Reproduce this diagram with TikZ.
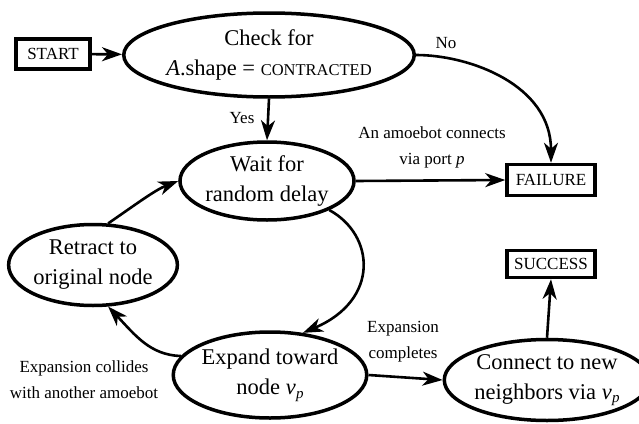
\documentclass[tikz,border=0pt]{standalone}
\usepackage{fontspec}
\setmainfont{Liberation Serif}
\usetikzlibrary{arrows.meta,shapes.geometric}
\newcommand{\vsub}{\textit{v}\kern0.3pt\raisebox{-0.35ex}{\fontsize{15}{15}\selectfont\textit{p}}}
\begin{document}
\begin{tikzpicture}[x=1pt,y=1pt,
  state/.style={ellipse,draw,line width=3.5pt,inner sep=0pt,align=center,
    font=\fontsize{22.5}{30}\selectfont},
  term/.style={rectangle,draw,line width=3.5pt,inner sep=0pt,align=center,
    font=\fontsize{17}{20}\selectfont},
  edge/.style={line width=2.6pt,-{Stealth[length=20pt,width=14pt,inset=6pt]}},
  lbl/.style={align=center,font=\fontsize{17}{26}\selectfont}]
\useasboundingbox (0,0) rectangle (639,-423);
\node[term,minimum width=74,minimum height=30] (start) at (53,-54) {START};
\node[state,minimum width=248,minimum height=84] (chk) at (269,-55) {Check for\\\textit{A}.shape = {\fontsize{16.5}{30}\selectfont CONTRACTED}};
\node[state,minimum width=157,minimum height=78] (wait) at (267,-181) {Wait for\\random delay};
\node[term,minimum width=88,minimum height=31] (fail) at (551,-180) {FAILURE};
\node[term,minimum width=88,minimum height=27] (succ) at (551,-264) {SUCCESS};
\node[state,minimum width=156,minimum height=81] (retr) at (93,-265) {Retract to\\original node};
\node[state,minimum width=190,minimum height=86] (exp) at (270,-375) {Expand toward\\node \vsub};
\node[state,minimum width=180,minimum height=81] (conn) at (547,-380) {Connect to new\\neighbors via \vsub};

\draw[edge] (start) -- (chk);
\draw[edge] (chk.east) .. controls (470,-55) and (551,-85) .. (fail.north);
\node[lbl] (nolbl) at (446,-43) {No};
\draw[edge] (chk.south) -- (wait.north);
\node[lbl] (yeslbl) at (242,-118) {Yes};
\draw[edge] (wait.east) -- (fail.west);
\node[lbl] (amlbl) at (432,-147) {An amoebot connects\\via port \textit{p}};
\draw[edge] (wait.-25) .. controls (375,-235) and (380,-300) .. (exp.52);
\draw[edge] (exp.168) .. controls (150,-355) and (135,-335) .. (retr.-70);
\node[lbl] (collbl) at (84,-380) {Expansion collides\\with another amoebot};
\draw[edge] (retr.70) .. controls (135,-205) and (155,-190) .. (wait.180);
\draw[edge] (exp.east) -- (conn.west);
\node[lbl] (complbl) at (403,-342) {Expansion\\completes};
\draw[edge] (conn.north) -- (succ.south);
\end{tikzpicture}
\end{document}
